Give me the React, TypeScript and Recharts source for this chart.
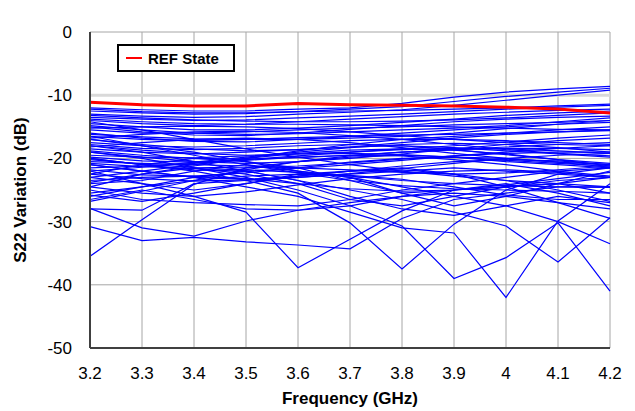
import React from 'react';
import { LineChart, Line, XAxis, YAxis, CartesianGrid } from 'recharts';

const FONT = 'Arial, "Liberation Sans", sans-serif';

// frequency points (GHz)
const FREQ = [3.2, 3.3, 3.4, 3.5, 3.6, 3.7, 3.8, 3.9, 4.0, 4.1, 4.2];
const Y_TICKS = [-50, -40, -30, -20, -10, 0];

// reference state (red)
const REF_STATE = [-11.1, -11.5, -11.7, -11.7, -11.3, -11.5, -11.6, -11.7, -11.9, -12.2, -12.8];

// all other phase states (dB)
const PHASE_STATES: number[][] = [
  [-35.5, -29.7, -24.1, -21.5, -20.5, -19.8, -19.5, -19.8, -20.5, -21.0, -21.5],
  [-30.8, -33.0, -32.5, -33.2, -33.7, -34.3, -29.5, -26.5, -25.5, -24.5, -24.5],
  [-27.9, -31.0, -32.3, -29.9, -28.2, -27.5, -26.0, -25.0, -24.5, -23.5, -23.0],
  [-28.0, -28.2, -24.0, -23.5, -23.0, -22.5, -22.0, -21.5, -22.0, -22.5, -23.0],
  [-22.0, -24.0, -26.0, -28.5, -37.3, -32.8, -28.3, -25.0, -24.5, -24.0, -23.0],
  [-20.0, -21.0, -22.0, -23.5, -25.5, -30.2, -37.5, -30.4, -25.0, -22.5, -21.5],
  [-21.0, -22.0, -23.0, -24.5, -26.0, -28.5, -31.0, -31.8, -42.0, -29.9, -24.0],
  [-19.0, -20.0, -21.5, -23.0, -25.0, -27.5, -30.7, -39.0, -35.7, -30.2, -41.0],
  [-18.0, -19.0, -20.5, -22.0, -23.5, -25.0, -26.5, -28.5, -30.7, -36.4, -29.4],
  [-17.0, -18.0, -19.0, -20.5, -22.0, -23.0, -24.5, -26.0, -27.5, -30.0, -33.5],
  [-26.5, -25.0, -26.5, -28.0, -28.2, -27.0, -26.0, -25.5, -26.0, -27.0, -28.0],
  [-25.0, -26.5, -27.0, -27.3, -27.5, -26.5, -25.0, -24.0, -23.0, -22.0, -21.5],
  [-24.0, -23.5, -22.0, -21.0, -22.0, -23.0, -25.5, -27.5, -26.0, -24.0, -22.0],
  [-23.0, -24.0, -25.0, -24.0, -22.5, -22.0, -21.5, -22.5, -24.5, -27.0, -29.5],
  [-26.0, -24.5, -23.0, -22.0, -23.5, -26.0, -28.0, -29.0, -27.5, -26.0, -27.0],
  [-22.5, -21.0, -20.0, -20.5, -21.5, -23.5, -25.5, -25.0, -24.0, -25.5, -27.5],
  [-24.5, -22.5, -21.5, -22.5, -24.0, -26.5, -27.5, -26.0, -24.5, -24.0, -25.5],
  [-26.8, -25.2, -23.5, -21.8, -20.5, -19.6, -19.0, -18.6, -18.2, -17.8, -17.5],
  [-14.2, -15.5, -17.0, -18.5, -19.8, -21.0, -22.0, -22.8, -23.5, -24.0, -24.5],
  [-16.5, -18.0, -19.5, -21.0, -22.3, -23.5, -24.3, -24.8, -25.0, -25.2, -25.5],
  [-23.8, -22.5, -21.2, -20.0, -18.8, -17.8, -17.0, -16.5, -16.0, -15.5, -15.0],
  [-25.8, -26.8, -25.5, -24.0, -22.8, -22.0, -21.8, -22.5, -23.5, -25.0, -26.8],
  [-12.0, -12.3, -12.5, -12.5, -12.2, -12.0, -11.3, -10.3, -9.5, -9.0, -8.6],
  [-12.5, -12.8, -13.0, -12.9, -12.6, -12.2, -11.8, -11.0, -10.2, -9.5, -8.9],
  [-13.0, -13.3, -13.5, -13.4, -13.0, -12.7, -12.3, -11.6, -10.8, -10.0, -9.2],
  [-12.2, -12.6, -12.8, -12.8, -12.6, -12.5, -12.4, -12.2, -12.0, -11.7, -11.4],
  [-13.5, -13.8, -14.0, -13.9, -13.6, -13.3, -13.0, -12.6, -12.2, -11.9, -11.6],
  [-14.0, -14.5, -14.8, -14.6, -14.2, -13.8, -13.4, -13.0, -12.7, -12.4, -12.2],
  [-14.5, -15.0, -15.5, -15.5, -15.2, -14.8, -14.3, -13.8, -13.2, -12.8, -12.5],
  [-15.0, -15.8, -16.3, -16.4, -16.0, -15.4, -14.8, -14.2, -13.8, -13.5, -13.3],
  [-15.5, -16.0, -16.0, -15.8, -15.5, -15.2, -15.0, -14.7, -14.5, -14.3, -14.0],
  [-16.0, -16.8, -17.3, -17.4, -17.0, -16.5, -16.0, -15.5, -15.0, -14.6, -14.3],
  [-16.5, -17.0, -17.2, -17.0, -16.7, -16.5, -16.3, -16.2, -16.0, -15.8, -15.5],
  [-17.0, -17.8, -18.5, -18.8, -18.6, -18.2, -17.5, -16.8, -16.2, -15.8, -15.6],
  [-17.5, -18.0, -18.2, -18.0, -17.6, -17.2, -17.0, -17.0, -17.2, -17.5, -17.8],
  [-18.0, -18.7, -19.2, -19.5, -19.3, -19.0, -18.5, -18.0, -17.4, -16.8, -16.3],
  [-18.5, -19.0, -19.3, -19.0, -18.6, -18.2, -18.0, -18.3, -18.8, -19.3, -19.8],
  [-19.0, -19.8, -20.5, -20.8, -20.5, -20.0, -19.3, -18.5, -17.8, -17.2, -16.8],
  [-19.5, -19.8, -19.9, -19.6, -19.3, -19.2, -19.4, -19.8, -20.3, -20.8, -21.2],
  [-20.0, -21.0, -21.8, -22.0, -21.6, -21.0, -20.3, -19.6, -19.0, -18.4, -18.0],
  [-20.5, -20.8, -21.0, -21.2, -21.5, -21.8, -22.2, -22.5, -22.3, -21.8, -21.2],
  [-21.0, -22.0, -23.0, -23.3, -23.0, -22.4, -21.6, -20.8, -20.0, -19.5, -19.2],
  [-21.5, -21.2, -20.8, -20.2, -19.6, -19.0, -18.6, -18.4, -18.5, -18.8, -19.2],
  [-22.0, -21.4, -20.6, -19.8, -19.0, -18.3, -17.8, -17.6, -17.8, -18.3, -19.0],
  [-23.0, -22.0, -21.0, -20.0, -19.2, -18.7, -18.5, -18.7, -19.3, -20.2, -21.2],
  [-18.2, -17.5, -17.0, -16.8, -17.0, -17.5, -18.3, -19.2, -20.0, -20.6, -21.0],
  [-16.8, -16.2, -15.8, -15.7, -15.9, -16.4, -17.0, -17.8, -18.6, -19.2, -19.6],
  [-15.2, -15.0, -14.9, -15.0, -15.3, -15.8, -16.4, -17.0, -17.5, -17.8, -18.0],
  [-13.8, -14.2, -14.5, -14.6, -14.6, -14.7, -14.8, -15.0, -15.2, -15.4, -15.5],
  [-19.8, -20.4, -20.6, -20.3, -19.8, -19.5, -19.6, -20.2, -21.0, -22.0, -22.8],
  [-17.8, -18.4, -18.6, -18.4, -18.0, -17.8, -18.0, -18.6, -19.4, -20.2, -20.8],
  [-22.5, -23.2, -23.6, -23.4, -22.8, -22.0, -21.2, -20.5, -20.2, -20.4, -21.0],
  [-21.8, -22.6, -22.8, -22.3, -21.5, -20.6, -20.0, -19.8, -20.0, -20.6, -21.4],
  [-14.8, -15.5, -16.0, -16.2, -16.1, -15.8, -15.5, -15.2, -14.8, -14.2, -13.6],
  [-16.2, -16.6, -16.9, -17.0, -17.0, -16.8, -16.5, -16.0, -15.3, -14.6, -14.0],
  [-13.2, -13.6, -13.9, -14.1, -14.2, -14.2, -14.1, -13.9, -13.6, -13.2, -12.8],
  [-18.8, -19.5, -20.0, -20.1, -19.9, -19.5, -19.0, -18.6, -18.4, -18.4, -18.6],
  [-20.2, -20.9, -21.4, -21.5, -21.2, -20.7, -20.1, -19.6, -19.2, -19.0, -19.0],
  [-24.5, -25.5, -26.0, -25.3, -24.2, -23.2, -22.5, -22.0, -21.8, -22.2, -23.0],
  [-23.5, -23.0, -22.8, -23.2, -24.0, -24.8, -25.2, -25.0, -24.2, -23.2, -22.2],
  [-25.5, -24.5, -23.5, -22.8, -22.5, -22.7, -23.3, -24.5, -25.8, -26.5, -26.5],
  [-20.8, -21.3, -21.6, -21.8, -22.2, -22.8, -23.5, -24.0, -24.3, -24.5, -24.6],
];

const rows = FREQ.map((f, i) => {
  const row: Record<string, number> = { f, ref: REF_STATE[i] };
  PHASE_STATES.forEach((s, k) => {
    row[`s${k}`] = s[i];
  });
  return row;
});

const tickStyle = { fill: '#000', fontSize: 17, fontFamily: FONT };

const YTitle = (props: any) => {
  const vb = props.viewBox || { x: 0, y: 32, width: 90, height: 316 };
  const cx = vb.x + 20;
  const cy = vb.y + vb.height / 2;
  return (
    <text
      x={cx}
      y={cy}
      transform={`rotate(-90, ${cx}, ${cy})`}
      textAnchor="middle"
      dominantBaseline="central"
      fontFamily={FONT}
      fontSize={17}
      fontWeight="bold"
      fill="#000"
    >
      S22 Variation (dB)
    </text>
  );
};

export default function App() {
  return (
    <div style={{ position: 'absolute', left: 0, top: 0, width: 635, height: 411, background: '#fff' }}>
      <LineChart width={635} height={411} data={rows} margin={{ top: 32, right: 25, bottom: 0, left: 0 }}>
        <CartesianGrid stroke="#a6a6a6" strokeWidth={1} />
        <CartesianGrid stroke="#d9d9d9" strokeWidth={3} vertical={false} horizontalValues={[-10]} />
        <XAxis
          dataKey="f"
          type="number"
          domain={[3.2, 4.2]}
          ticks={FREQ}
          tickFormatter={(v) => String(v)}
          height={63}
          tickLine={false}
          tickSize={0}
          tickMargin={19}
          axisLine={{ stroke: '#404040', strokeWidth: 2 }}
          tick={tickStyle}
          label={{
            value: 'Frequency (GHz)',
            position: 'insideBottom',
            offset: 7,
            fill: '#000',
            fontSize: 17,
            fontWeight: 'bold',
            fontFamily: FONT,
          }}
        />
        <XAxis
          xAxisId="top"
          orientation="top"
          dataKey="f"
          type="number"
          domain={[3.2, 4.2]}
          height={0}
          tick={false}
          tickLine={false}
          axisLine={{ stroke: '#000', strokeWidth: 1 }}
          label={{
            value: 'All Phase States at T = 25˚C',
            position: 'top',
            offset: 10,
            fill: '#000',
            fontSize: 17,
            fontWeight: 'bold',
            fontFamily: FONT,
          }}
        />
        <YAxis
          type="number"
          domain={[-50, 0]}
          ticks={Y_TICKS}
          width={90}
          tickLine={false}
          tickSize={0}
          tickMargin={18}
          axisLine={{ stroke: '#404040', strokeWidth: 2 }}
          tick={tickStyle}
          label={<YTitle />}
        />
        <YAxis
          yAxisId="right"
          orientation="right"
          type="number"
          domain={[-50, 0]}
          width={0}
          tick={false}
          tickLine={false}
          axisLine={{ stroke: '#000', strokeWidth: 1 }}
        />
        {PHASE_STATES.map((_, k) => (
          <Line
            key={k}
            dataKey={`s${k}`}
            stroke="#0000ff"
            strokeWidth={1.2}
            dot={false}
            activeDot={false}
            isAnimationActive={false}
          />
        ))}
        <Line dataKey="ref" stroke="#ff0000" strokeWidth={3} dot={false} activeDot={false} isAnimationActive={false} />
      </LineChart>
      <div
        style={{
          position: 'absolute',
          left: 117,
          top: 44,
          width: 118,
          height: 28,
          boxSizing: 'border-box',
          border: '2px solid #000',
          background: '#fff',
          display: 'flex',
          alignItems: 'center',
          fontFamily: FONT,
          fontSize: 15,
          fontWeight: 'bold',
        }}
      >
        <span style={{ display: 'inline-block', width: 16, height: 2, background: '#ff0000', marginLeft: 7, marginRight: 6 }} />
        <span>REF State</span>
      </div>
    </div>
  );
}
